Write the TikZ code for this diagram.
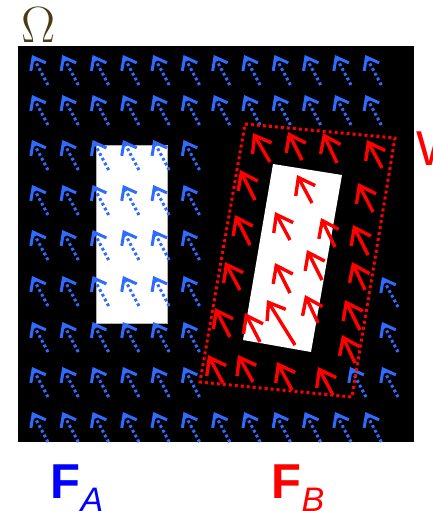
\documentclass[tikz,border=0pt]{standalone}
\usepackage{fix-cm}
\usepackage{fontspec}
\usepackage{tikz}
\usetikzlibrary{arrows.meta}
\newfontfamily\labfont{Liberation Sans}
\definecolor{cOmega}{HTML}{4A3A18}
\definecolor{cFieldA}{HTML}{2F6BFF}
\definecolor{cFieldB}{HTML}{FF0000}
\definecolor{cLabA}{HTML}{0000FF}
\definecolor{cLabB}{HTML}{FF0000}
\tikzset{
  domainbox/.style={fill=black},
  hole/.style={fill=white, draw=gray!60, line width=0.8pt},
  avec/.style={cFieldA, line width=3pt, dash pattern=on 2.8pt off 2.6pt,
    -{Straight Barb[length=11pt, width=17pt, line width=3pt]}},
  bvec/.style={cFieldB, line width=3.4pt,
    -{Straight Barb[length=15pt, width=22pt]}},
  winframe/.style={cFieldB, line width=3pt, dash pattern=on 3pt off 3pt},
  biglab/.style={font=\labfont\fontsize{49}{49}\selectfont, inner sep=0pt, anchor=base west},
}

\begin{document}
\begin{tikzpicture}[x=1pt, y=-1pt]
  \useasboundingbox (0,0) rectangle (433,511);

  % Domain and the two bodies
  \fill[domainbox] (18,46) rectangle (414,442);
  \filldraw[hole] (96,145) rectangle (167,323);
  \fill[white] (273,164) -- (342,175) -- (311,352) -- (243,340) -- cycle;

  % Field A: dotted vectors on a grid
  \begin{scope}
    \clip (18,46) rectangle (414,442);
    \foreach \y in {55,95,412}
      \foreach \i in {0,...,11}
        \draw[avec] ({32+30.3*\i+16},\y+30) -- ({32+30.3*\i},\y);
    \foreach \y in {140,185,230,276,322,367}
      \foreach \i in {0,...,5}
        \draw[avec] ({32+30.3*\i+16},\y+30) -- ({32+30.3*\i},\y);
    \foreach \x/\y in {382/277, 382/322, 382/367, 350/367}
      \draw[avec] (\x+16,\y+30) -- (\x,\y);
  \end{scope}

  % Field B: vectors inside the window
  \foreach \ax/\ay/\bx/\by in {270/162/253/133, 302/160/288/132, 337/163/323/133,
      382/168/367/140, 255/200/240/170, 312/203/297/175, 373/212/358/183,
      250/245/235/215, 290/240/275/212, 335/247/321/218, 368/255/353/225,
      240/290/225/262, 290/293/275/263, 322/280/307/250, 365/290/352/262,
      230/337/215/308, 260/342/245/313, 295/345/267/300, 318/323/305/295,
      360/330/345/300, 355/363/342/335, 223/383/208/355, 253/382/238/355,
      292/390/277/362, 333/395/318/367}
    \draw[bvec] (\ax,\ay) -- (\bx,\by);

  % Window W
  \draw[winframe] (245,124) -- (395,138) -- (352,397) -- (200,382) -- cycle;

  % Labels
  \node[inner sep=0pt, anchor=base, text=cOmega] (omega) at (38.5,43)
    {\fontsize{51}{51}\selectfont$\Omega$};
  \node[biglab, text=cLabB] (win) at (416,165) {W};
  \node[biglab, text=cLabA] (labA) at (50.5,498)
    {\bfseries F\raisebox{-13pt}{\fontsize{34}{34}\selectfont\mdseries\itshape A}};
  \node[biglab, text=cLabB] (labB) at (271.5,498)
    {\bfseries F\raisebox{-13pt}{\fontsize{34}{34}\selectfont\mdseries\itshape B}};
\end{tikzpicture}
\end{document}
